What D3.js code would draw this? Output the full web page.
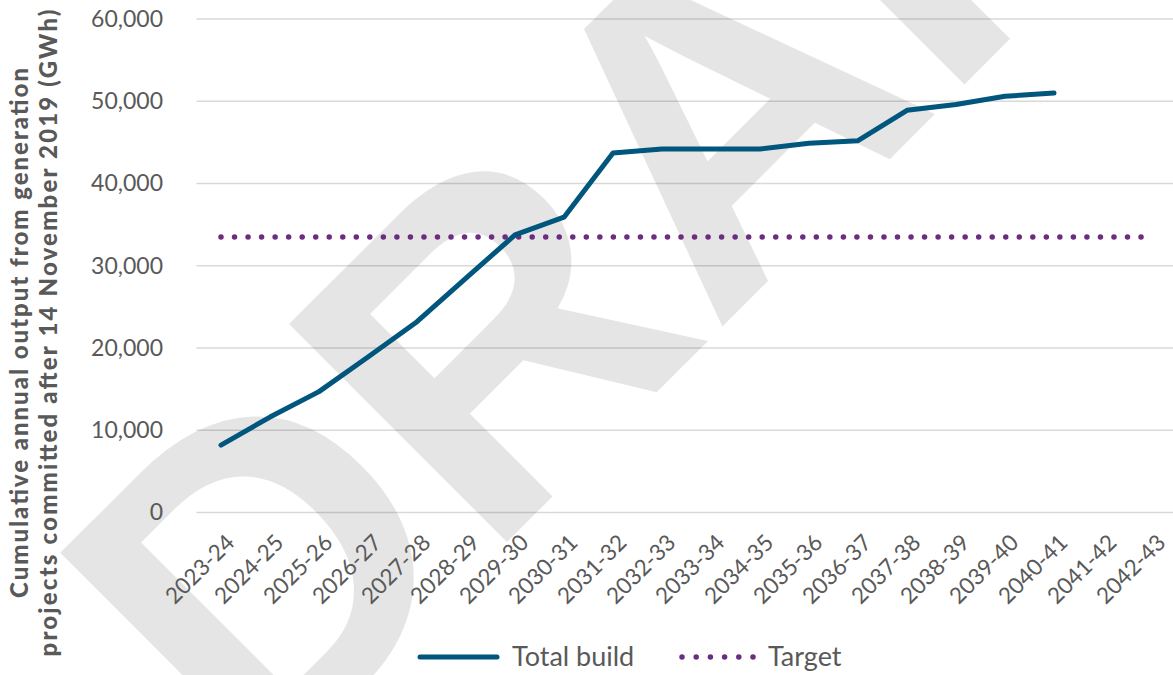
<!DOCTYPE html>
<html>
<head>
<meta charset="utf-8">
<script src="https://cdn.jsdelivr.net/npm/d3@7"></script>
<style>
  html, body { margin: 0; padding: 0; background: #ffffff; }
  svg { display: block; }
</style>
</head>
<body>
<svg id="chart" width="1173" height="675"></svg>
<script>
const categories = ["2023-24","2024-25","2025-26","2026-27","2027-28","2028-29","2029-30","2030-31","2031-32","2032-33","2033-34","2034-35","2035-36","2036-37","2037-38","2038-39","2039-40","2040-41","2041-42","2042-43"];
const totalBuild = [8200, 11600, 14700, 18900, 23200, 28500, 33750, 35900, 43700, 44200, 44200, 44200, 44900, 45200, 48900, 49600, 50600, 51000];
const target = [33500,33500,33500,33500,33500,33500,33500,33500,33500,33500,33500,33500,33500,33500,33500,33500,33500,33500,33500,33500];
const yTicks = [0, 10000, 20000, 30000, 40000, 50000, 60000];
const seriesNames = ["Total build", "Target"];
const yTitleLines = ["Cumulative annual output from generation", "projects committed after 14 November 2019 (GWh)"];
const watermarkText = "DRAFT";

const W = 1173, H = 675;
const svg = d3.select("#chart");
const font = "Lato, 'Open Sans', sans-serif";
const textColor = "#595959";
const blue = "#00567d";
const purple = "#6b2d80";

const x = d3.scalePoint().domain(categories).range([221, 221 + 49 * 19]);
const y = d3.scaleLinear().domain([0, 60000]).range([512.5, 19]);

// gridlines
const grid = svg.append("g");
grid.selectAll("line").data(yTicks).join("line")
  .attr("x1", 196.5).attr("x2", W)
  .attr("y1", d => y(d)).attr("y2", d => y(d))
  .attr("stroke", "#d9d9d9").attr("stroke-width", 1.3);

// watermark
svg.append("text")
  .attr("transform", "translate(257,792) rotate(-45)")
  .attr("font-family", "'Liberation Sans', Arial, sans-serif")
  .attr("font-weight", "bold")
  .attr("font-size", 448)
  .attr("fill", "#000").attr("fill-opacity", 0.1)
  .text(watermarkText);

// y axis labels
const yAxis = d3.axisLeft(y).tickValues(yTicks).tickFormat(d3.format(",")).tickSize(0).tickPadding(0);
const yg = svg.append("g").attr("transform", "translate(163,0)").call(yAxis);
yg.select(".domain").remove();
yg.selectAll("text")
  .attr("font-family", font).attr("font-size", 23).attr("fill", textColor);

// x axis labels
const xAxis = d3.axisBottom(x).tickSize(0).tickPadding(0);
const xg = svg.append("g").call(xAxis);
xg.select(".domain").remove();
xg.selectAll(".tick").attr("transform", d => `translate(${x(d) + 15},544)`);
xg.selectAll("text")
  .attr("transform", "rotate(-45)")
  .attr("text-anchor", "end")
  .attr("dy", 0).attr("y", 0)
  .attr("font-family", font).attr("font-size", 22.5).attr("fill", textColor);

// lines
const line = d3.line().x((d, i) => x(categories[i])).y(d => y(d));
svg.append("path").datum(target)
  .attr("d", line).attr("fill", "none")
  .attr("stroke", purple).attr("stroke-width", 5.5)
  .attr("stroke-linecap", "round").attr("stroke-dasharray", "0,13.53");
svg.append("path").datum(totalBuild)
  .attr("d", line).attr("fill", "none")
  .attr("stroke", blue).attr("stroke-width", 5)
  .attr("stroke-linecap", "round").attr("stroke-linejoin", "round");

// y title
const titleLengths = [530, 647];
const yt = svg.append("text")
  .attr("transform", "translate(0,333) rotate(-90)")
  .attr("text-anchor", "middle")
  .attr("font-family", font).attr("font-weight", 900)
  .attr("font-size", 24).attr("fill", textColor);
yt.selectAll("tspan").data(yTitleLines).join("tspan")
  .attr("x", 0).attr("y", (d, i) => 28 + i * 29)
  .attr("textLength", (d, i) => titleLengths[i])
  .attr("lengthAdjust", "spacing")
  .text(d => d);

// legend
const lg = svg.append("g");
lg.append("line").attr("x1", 420).attr("x2", 497).attr("y1", 657).attr("y2", 657)
  .attr("stroke", blue).attr("stroke-width", 5).attr("stroke-linecap", "round");
lg.append("text").attr("x", 512).attr("y", 666)
  .attr("font-family", font).attr("font-size", 27).attr("fill", textColor).text(seriesNames[0]);
lg.append("line").attr("x1", 682).attr("x2", 754).attr("y1", 657).attr("y2", 657)
  .attr("stroke", purple).attr("stroke-width", 5.5).attr("stroke-linecap", "round")
  .attr("stroke-dasharray", "0,14.2");
lg.append("text").attr("x", 768).attr("y", 666)
  .attr("font-family", font).attr("font-size", 27).attr("fill", textColor).text(seriesNames[1]);
</script>
</body>
</html>
